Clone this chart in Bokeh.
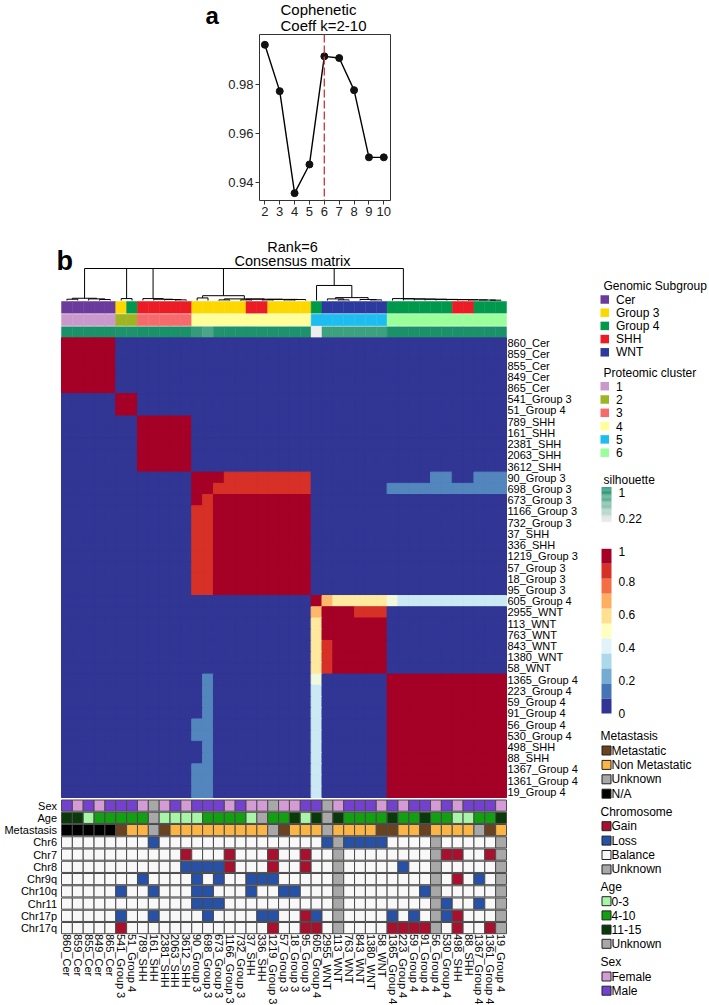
import numpy as np
from bokeh.plotting import figure
from bokeh.models import Range1d, Span, FixedTicker
from bokeh.embed import file_html
from bokeh.resources import INLINE
from bokeh.core.properties import value

FONT = "Liberation Sans"

# ---------------- panel a data ----------------
k_values = [2, 3, 4, 5, 6, 7, 8, 9, 10]
cophenetic = [0.9963, 0.9774, 0.9358, 0.9475, 0.9916, 0.9909, 0.9778, 0.9504, 0.9504]
selected_rank = 6

# ---------------- panel b data ----------------
samples = ["860_Cer", "859_Cer", "855_Cer", "849_Cer", "865_Cer", "541_Group 3", "51_Group 4",
           "789_SHH", "161_SHH", "2381_SHH", "2063_SHH", "3612_SHH", "90_Group 3", "698_Group 3",
           "673_Group 3", "1166_Group 3", "732_Group 3", "37_SHH", "336_SHH", "1219_Group 3",
           "57_Group 3", "18_Group 3", "95_Group 3", "605_Group 4", "2955_WNT", "113_WNT",
           "763_WNT", "843_WNT", "1380_WNT", "58_WNT", "1365_Group 4", "223_Group 4",
           "59_Group 4", "91_Group 4", "56_Group 4", "530_Group 4", "498_SHH", "88_SHH",
           "1367_Group 4", "1361_Group 4", "19_Group 4"]
genomic_subgroup = [s.split("_", 1)[1] for s in samples]
proteomic_cluster = [1, 1, 1, 1, 1, 2, 2, 3, 3, 3, 3, 3, 4, 4, 4, 4, 4, 4, 4, 4, 4, 4, 4,
                     5, 5, 5, 5, 5, 5, 5, 6, 6, 6, 6, 6, 6, 6, 6, 6, 6, 6]
silhouette = [0.97, 0.97, 0.97, 0.97, 0.97, 0.96, 0.96, 0.97, 0.97, 0.97, 0.97, 0.97, 0.88, 0.80,
              0.95, 0.96, 0.96, 0.96, 0.96, 0.96, 0.96, 0.96, 0.96, 0.22, 0.85, 0.85, 0.85, 0.85,
              0.85, 0.85, 0.97, 0.97, 0.97, 0.97, 0.97, 0.97, 0.97, 0.97, 0.97, 0.97, 0.97]

# consensus matrix: (row_from, row_to, col_from, col_to, value), mirrored; later entries override
consensus_blocks = [
    (0, 4, 0, 4, 1.0), (5, 6, 5, 6, 1.0), (7, 11, 7, 11, 1.0), (12, 22, 12, 22, 1.0),
    (12, 12, 15, 22, 0.9), (13, 13, 14, 22, 0.9),
    (12, 12, 34, 35, 0.13), (12, 12, 38, 40, 0.13), (13, 13, 30, 40, 0.13),
    (23, 23, 23, 23, 1.0), (23, 23, 24, 24, 0.68), (23, 23, 25, 29, 0.57),
    (23, 23, 30, 30, 0.45), (23, 23, 31, 40, 0.36),
    (24, 29, 24, 29, 1.0), (24, 24, 27, 29, 0.9),
    (30, 40, 30, 40, 1.0),
]

# dendrogram merges (left, right, height); leaves 0..40, merged nodes numbered from 41 upward
dendro_merges = [
    (0, 1, 0.04), (3, 4, 0.03), (2, 42, 0.05), (41, 43, 0.07),
    (5, 6, 0.06),
    (10, 11, 0.02), (9, 46, 0.03), (8, 47, 0.04), (7, 48, 0.06),
    (12, 13, 0.08), (14, 15, 0.02), (16, 17, 0.02), (18, 19, 0.02), (20, 21, 0.02),
    (54, 22, 0.03), (53, 55, 0.035), (52, 56, 0.04), (51, 57, 0.05), (50, 58, 0.15),
    (25, 26, 0.02), (24, 60, 0.05), (28, 29, 0.02), (27, 62, 0.03), (61, 63, 0.09), (23, 64, 0.47),
    (39, 40, 0.01), (38, 66, 0.015), (37, 67, 0.02), (36, 68, 0.025), (35, 69, 0.03),
    (34, 70, 0.035), (33, 71, 0.04), (32, 72, 0.045), (31, 73, 0.05), (30, 74, 0.06),
    (44, 45, 1.0), (76, 49, 1.0), (77, 59, 1.0), (78, 65, 1.0), (79, 75, 1.0),
]

sex = list("MFMFMMMFUFMFMMMFMFFUFFMMUFMMMFMFMMFMFMMMF")
age = ["11-15", "11-15", "0-3", "4-10", "4-10", "4-10", "4-10", "4-10", "Unknown", "0-3",
       "0-3", "0-3", "0-3", "4-10", "4-10", "4-10", "4-10", "0-3", "Unknown", "4-10",
       "4-10", "11-15", "0-3", "11-15", "Unknown", "11-15", "4-10", "4-10", "4-10", "4-10",
       "11-15", "4-10", "4-10", "11-15", "4-10", "4-10", "0-3", "0-3", "4-10", "4-10", "11-15"]
metastasis = list("AAAAAMNNUMNNNNNNNNNUMNNNUNNNNMMNNMNNNNUMN")
chrom_names = ["Chr6", "Chr7", "Chr8", "Chr9q", "Chr10q", "Chr11", "Chr17p", "Chr17q"]
chr6   = list("BBBBBBBBLBBBBBBBBBBBBBBBLULLLLBBBBUBBBBBU")
chr7   = list("BBBBBBBBBBBGBBBGBBBGBBGBBUBBBBBBBBUGGBBGU")
chr8   = list("BBBBBBBBBBBLLLLGBBBGBBGBBUBBBBBLBBUBBBBBU")
chr9q  = list("BBBBBBBLBBBBLBLBBLLLBBBBBUBBBBBBBBUBGBLBU")
chr10q = list("BBBBBLBBLBBBLLBBBLBBLLBBBUBBBBBBBLUBBBBBU")
chr11  = list("BBBBBBBBBBBBLLLBBBBBBBBBBUBBBBBBBBULBBLBU")
chr17p = list("BBBBBLBBLBBBBLBBBBLLBBGLBUBBBBLBLBULGBBBU")
chr17q = list("BBBBBGBBBBBBBBBBBBBGBBGGBUBBBBGGGGUBGBBGU")
chrom_tracks = [chr6, chr7, chr8, chr9q, chr10q, chr11, chr17p, chr17q]

# ---------------- colours ----------------
genomic_colors = {"Cer": "#6B3B9C", "Group 3": "#FDD800", "Group 4": "#00994C", "SHH": "#EC1C24", "WNT": "#2C3A9F"}
proteomic_colors = {1: "#CA99CC", 2: "#9EB423", 3: "#F76A6B", 4: "#FFFF9A", 5: "#1FBDEF", 6: "#9AFF9A"}
consensus_palette = ["#313695", "#4575B4", "#74ADD1", "#ABD9E9", "#E0F3F8", "#FFFFBF",
                     "#FEE090", "#FDAE61", "#F46D43", "#D73027", "#A50026"]
sil_low, sil_high = "#EEEEEE", "#138D65"
sex_colors = {"F": "#D49BD6", "M": "#7340D0", "U": "#A8A8A8"}
sex_labels = {"F": "Female", "M": "Male"}
age_colors = {"0-3": "#A8F5A8", "4-10": "#10A010", "11-15": "#0A3A0A", "Unknown": "#A8A8A8"}
met_colors = {"M": "#6B4220", "N": "#FBB544", "U": "#A8A8A8", "A": "#000000"}
met_labels = {"M": "Metastatic", "N": "Non Metastatic", "U": "Unknown", "A": "N/A"}
chr_colors = {"G": "#A8102E", "L": "#2651A6", "B": "#F8F8F8", "U": "#A8A8A8"}
chr_labels = {"G": "Gain", "L": "Loss", "B": "Balance", "U": "Unknown"}


def hex_rgb(h):
    h = h.lstrip("#")
    return np.array([int(h[i:i + 2], 16) for i in (0, 2, 4)], float)


def rgb_hex(c):
    return "#%02x%02x%02x" % tuple(int(round(v)) for v in c)


def ramp(colors, t):
    t = min(max(t, 0.0), 1.0)
    pos = t * (len(colors) - 1)
    i = min(int(np.floor(pos)), len(colors) - 2)
    f = pos - i
    return rgb_hex(hex_rgb(colors[i]) * (1 - f) + hex_rgb(colors[i + 1]) * f)


W = 709
HEAD_H = 33                      # header strip: panel letter "a" and the panel a title
A_H = 225 - HEAD_H
A_LEFT, A_RIGHT, A_TOP, A_BOTTOM = 259, 390, 34, 200   # page px of the plot box

# ================= header (panel a title) =================
ph = figure(width=W, height=HEAD_H, x_range=Range1d(0, W), y_range=Range1d(HEAD_H, 0),
            x_axis_type=None, y_axis_type=None, min_border=0, outline_line_color=None,
            output_backend="svg", toolbar_location=None)
ph.text(x=[280, 280], y=[9, 24.5], text=["Cophenetic", "Coeff k=2-10"], text_font=value(FONT),
        text_font_size=value("15px"), text_align="left", text_baseline="middle")
ph.text(x=[205], y=[15], text=["a"], text_font=value(FONT), text_font_size=value("24px"),
        text_font_style="bold", text_align="left", text_baseline="middle")

# ================= panel a =================
ax0, ax1 = 1.64, 10.45
ay0, ay1 = 0.9328, 1.0005
pa = figure(width=W, height=A_H, x_range=Range1d(ax0, ax1), y_range=Range1d(ay0, ay1),
            min_border_left=A_LEFT, min_border_right=W - A_RIGHT,
            min_border_top=A_TOP - HEAD_H, min_border_bottom=A_H - (A_BOTTOM - HEAD_H),
            output_backend="svg", toolbar_location=None, title=None)
pa.grid.visible = False
pa.outline_line_color = "#333333"
pa.outline_line_width = 1
for axis in (pa.xaxis, pa.yaxis):
    axis.axis_line_color = None
    axis.major_tick_out = 4
    axis.major_tick_in = 0
    axis.minor_tick_line_color = None
    axis.major_tick_line_color = "#333333"
    axis.major_label_text_font = FONT
    axis.major_label_text_font_size = "13px"
    axis.major_label_text_color = "#222222"
    axis.major_label_standoff = 2
pa.xaxis.ticker = FixedTicker(ticks=k_values)
pa.yaxis.ticker = FixedTicker(ticks=[0.94, 0.96, 0.98])
pa.add_layout(Span(location=selected_rank, dimension="height", line_color="#C8413F",
                   line_dash="8 3", line_width=1.4))
pa.line(k_values, cophenetic, line_color="black", line_width=1.4)
pa.scatter(k_values, cophenetic, size=7, fill_color="#111111", line_color="#111111")

# ================= panel b =================
n = len(samples)
B_TOP, B_BOTTOM = 225, 1005
HM_L, HM_R, HM_T, HM_B = 61, 506, 337, 797
CW = (HM_R - HM_L) / n
RH = (HM_B - HM_T) / n


def X(px):
    return (px - HM_L) / CW


def Y(py):
    return (py - HM_T) / RH


pb = figure(width=W, height=B_BOTTOM - B_TOP,
            x_range=Range1d(X(0), X(W)), y_range=Range1d(Y(B_BOTTOM), Y(B_TOP)),
            x_axis_type=None, y_axis_type=None, min_border=0, outline_line_color=None,
            output_backend="svg", toolbar_location=None)

# consensus heatmap
M = np.zeros((n, n))
for r0, r1, c0, c1, v in consensus_blocks:
    M[r0:r1 + 1, c0:c1 + 1] = v
    M[c0:c1 + 1, r0:r1 + 1] = v
L, R, T, Bt, C = [], [], [], [], []
for r in range(n):
    for c in range(n):
        L.append(c); R.append(c + 1); T.append(r); Bt.append(r + 1)
        C.append(ramp(consensus_palette, M[r, c]))
pb.quad(left=0, right=n, top=0, bottom=n, fill_color=consensus_palette[0], line_color=None)
pb.quad(left=L, right=R, top=T, bottom=Bt, fill_color=C, line_color=C, line_width=1.0)

# dendrogram
D_BASE, D_TOP = 300, 268
pos = {i: i + 0.5 for i in range(n)}
hgt = {i: 0.0 for i in range(n)}
xs, ys = [], []
for idx, (a, b, h) in enumerate(dendro_merges):
    node = n + idx
    pos[node] = (pos[a] + pos[b]) / 2
    hgt[node] = h
    yh = Y(D_BASE - h * (D_BASE - D_TOP))
    xs.append([pos[a], pos[a], pos[b], pos[b]])
    ys.append([Y(D_BASE - hgt[a] * (D_BASE - D_TOP)), yh, yh, Y(D_BASE - hgt[b] * (D_BASE - D_TOP))])
pb.multi_line(xs, ys, line_color="black", line_width=1)

# top annotation bars
cols = list(range(n))
top_tracks = [
    ([genomic_colors[g] for g in genomic_subgroup], 301, 312.7),
    ([proteomic_colors[p] for p in proteomic_cluster], 313.7, 325.3),
    ([ramp([sil_low, sil_high], (s - 0.22) / 0.78) for s in silhouette], 326.3, 336.6),
]
for colors, t, b in top_tracks:
    pb.quad(left=cols, right=[c + 1 for c in cols], top=Y(t), bottom=Y(b),
            fill_color=colors, line_color=colors, line_width=0.5)

# row labels
pb.text(x=X(507), y=[r + 0.5 for r in range(n)], text=samples, text_font=value(FONT),
        text_font_size=value("11px"), text_align="left", text_baseline="middle", text_color="black")

# bottom annotation tracks
bottom_tracks = [("Sex", [sex_colors[s] for s in sex]),
                 ("Age", [age_colors[a] for a in age]),
                 ("Metastasis", [met_colors[m] for m in metastasis])]
bottom_tracks += [(nm, [chr_colors[v] for v in tr]) for nm, tr in zip(chrom_names, chrom_tracks)]
TR_TOP, TR_PITCH, TR_H = 799.5, 12.25, 11.2
for i, (nm, colors) in enumerate(bottom_tracks):
    t = TR_TOP + i * TR_PITCH
    pb.quad(left=cols, right=[c + 1 for c in cols], top=Y(t), bottom=Y(t + TR_H),
            fill_color=colors, line_color="#4A4A4A", line_width=1)
    pb.text(x=[X(56.5)], y=[Y(t + TR_H / 2)], text=[nm], text_font=value(FONT),
            text_font_size=value("11px"), text_align="right", text_baseline="middle")

# column labels
pb.text(x=[c + 0.5 for c in cols], y=Y(933.5), text=samples, angle=-np.pi / 2,
        text_font=value(FONT), text_font_size=value("11px"), text_align="left",
        text_baseline="middle")

# titles
pb.text(x=[X(292)] * 2, y=[Y(246.7), Y(260.7)], text=[f"Rank={selected_rank}", "Consensus matrix"],
        text_font=value(FONT), text_font_size=value("14.5px"), text_align="center",
        text_baseline="middle")
pb.text(x=[X(56)], y=[Y(260.5)], text=["b"], text_font=value(FONT), text_font_size=value("27px"),
        text_font_style="bold", text_align="left", text_baseline="alphabetic")


# legends
def legend(title, labels, colors, title_x, title_y, first_y, pitch, sw_x, sw, text_x, border):
    pb.text(x=[X(title_x)], y=[Y(title_y)], text=[title], text_font=value(FONT),
            text_font_size=value("12px"), text_align="left", text_baseline="middle")
    yc = [first_y + i * pitch for i in range(len(labels))]
    pb.quad(left=X(sw_x), right=X(sw_x + sw), top=[Y(y - sw / 2) for y in yc],
            bottom=[Y(y + sw / 2) for y in yc], fill_color=colors,
            line_color="#222222" if border else None, line_width=1)
    pb.text(x=X(text_x), y=[Y(y) for y in yc], text=labels, text_font=value(FONT),
            text_font_size=value("12px"), text_align="left", text_baseline="middle")


g_names = list(genomic_colors)
legend("Genomic Subgroup", g_names, [genomic_colors[g] for g in g_names],
       603, 285.7, 299, 13.2, 600, 8.5, 615.5, False)
p_names = list(proteomic_colors)
legend("Proteomic cluster", [str(p) for p in p_names], [proteomic_colors[p] for p in p_names],
       603, 372.7, 385.7, 13.3, 600, 8.5, 615.5, False)

# silhouette gradient legend
pb.text(x=[X(603)], y=[Y(479)], text=["silhouette"], text_font=value(FONT),
        text_font_size=value("12px"), text_align="left", text_baseline="middle")
g_top, g_bot, steps = 486.7, 521.7, 30
gy = np.linspace(g_top, g_bot, steps + 1)
pb.quad(left=X(601), right=X(611), top=[Y(v) for v in gy[:-1]], bottom=[Y(v) for v in gy[1:]],
        fill_color=[ramp([sil_high, sil_low], k / (steps - 1)) for k in range(steps)],
        line_color=None)
pb.text(x=[X(618)] * 2, y=[Y(491.7), Y(517.7)], text=["1", "0.22"], text_font=value(FONT),
        text_font_size=value("12px"), text_align="left", text_baseline="middle")

# consensus legend
c_top, c_bot = 548.3, 713.0
ncol = len(consensus_palette)
cy = np.linspace(c_top, c_bot, ncol + 1)
pb.quad(left=X(601), right=X(611), top=[Y(v) for v in cy[:-1]], bottom=[Y(v) for v in cy[1:]],
        fill_color=consensus_palette[::-1], line_color=None)
ticks = [1, 0.8, 0.6, 0.4, 0.2, 0]
pb.text(x=X(618), y=[Y(max(c_bot - t * (c_bot - c_top), 550.5)) for t in ticks],
        text=[("%g" % t) for t in ticks], text_font=value(FONT), text_font_size=value("12px"),
        text_align="left", text_baseline="middle")

m_keys = list(met_labels)
legend("Metastasis", [met_labels[k] for k in m_keys], [met_colors[k] for k in m_keys],
       600, 735, 750, 14.4, 601.5, 9, 611, True)
c_keys = list(chr_labels)
legend("Chromosome", [chr_labels[k] for k in c_keys], [chr_colors[k] for k in c_keys],
       600, 811.7, 825.7, 14.4, 601.5, 9, 611, True)
a_keys = list(age_colors)
legend("Age", a_keys, [age_colors[k] for k in a_keys], 600, 886.7, 900.7, 14.2, 601.5, 9, 611, True)
s_keys = list(sex_labels)
legend("Sex", [sex_labels[k] for k in s_keys], [sex_colors[k] for k in s_keys],
       600, 961.7, 976, 14.2, 601.5, 9, 611, True)

open("out.html", "w").write(file_html([ph, pa, pb], INLINE))
